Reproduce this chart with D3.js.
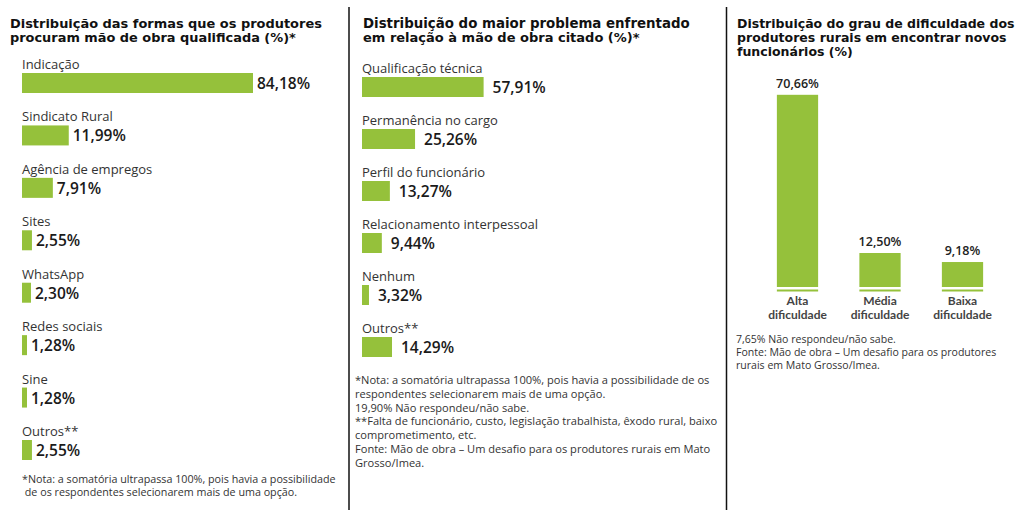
<!DOCTYPE html>
<html><head><meta charset="utf-8">
<script src="https://cdn.jsdelivr.net/npm/d3@7/dist/d3.min.js"></script>
<style>
html,body{margin:0;padding:0;background:#fff;}
svg text{font-family:"Open Sans",Lato,sans-serif;}
</style></head>
<body>
<svg id="c" width="1024" height="510"></svg>
<script>
// ---------- DATA ----------
const formasCategories = ["Indicação","Sindicato Rural","Agência de empregos","Sites","WhatsApp","Redes sociais","Sine","Outros**"];
const formasValues = [84.18, 11.99, 7.91, 2.55, 2.30, 1.28, 1.28, 2.55];
const formasLabels = ["84,18%","11,99%","7,91%","2,55%","2,30%","1,28%","1,28%","2,55%"];

const problemaCategories = ["Qualificação técnica","Permanência no cargo","Perfil do funcionário","Relacionamento interpessoal","Nenhum","Outros**"];
const problemaValues = [57.91, 25.26, 13.27, 9.44, 3.32, 14.29];
const problemaLabels = ["57,91%","25,26%","13,27%","9,44%","3,32%","14,29%"];

const grauCategories = [["Alta","dificuldade"],["Média","dificuldade"],["Baixa","dificuldade"]];
const grauValues = [70.66, 12.50, 9.18];
const grauLabels = ["70,66%","12,50%","9,18%"];

const title1 = ["Distribuição das formas que os produtores","procuram mão de obra qualificada (%)*"];
const title2 = ["Distribuição do maior problema enfrentado","em relação à mão de obra citado (%)*"];
const title3 = ["Distribuição do grau de dificuldade dos","produtores rurais em encontrar novos","funcionários (%)"];
const note1 = ["*Nota: a somatória ultrapassa 100%, pois havia a possibilidade"," de os respondentes selecionarem mais de uma opção."];
const note2 = ["*Nota: a somatória ultrapassa 100%, pois havia a possibilidade de os","respondentes selecionarem mais de uma opção.","19,90% Não respondeu/não sabe.","**Falta de funcionário, custo, legislação trabalhista, êxodo rural, baixo","comprometimento, etc.","Fonte: Mão de obra – Um desafio para os produtores rurais em Mato","Grosso/Imea."];
const note3 = ["7,65% Não respondeu/não sabe.","Fonte: Mão de obra – Um desafio para os produtores","rurais em Mato Grosso/Imea."];

// ---------- DRAW ----------
const GREEN = "#95c13b";
const svg = d3.select("#c");

// dividers
svg.append("line").attr("x1",349).attr("x2",349).attr("y1",7).attr("y2",510).attr("stroke","#111").attr("stroke-width",1.5);
svg.append("line").attr("x1",726.5).attr("x2",726.5).attr("y1",7).attr("y2",510).attr("stroke","#111").attr("stroke-width",1.5);

function title(lines,x,y0,dy,widths){
  const t=svg.append("text").attr("x",x).attr("y",y0)
    .style("font-family","'DejaVu Sans',sans-serif")
    .style("font-size","13px").style("font-weight","700").attr("fill","#111");
  lines.forEach((s,i)=>{
    const ts=t.append("tspan").attr("x",x).attr("y",y0+i*dy).text(s).style("font-size","13px");
    const n=ts.node().getComputedTextLength();
    if(n>0) ts.style("font-size",(13*widths[i]/n)+"px");
  });
}
function notes(lines,x,y0,dy,w0,fs){
  const t=svg.append("text").attr("x",x).attr("y",y0).style("font-size",fs+"px").attr("fill","#333");
  lines.forEach((s,i)=>{
    t.append("tspan").attr("x",x).attr("y",y0+i*dy).text(s);
  });
  const k=w0/t.select("tspan").node().getComputedTextLength();
  t.style("font-size",(fs*k)+"px");
}
const LBL = "13px", VAL = "15.5px";

// ----- Panel 1 -----
title(title1,10,28,14,[312,286]);
const x1 = d3.scaleLinear().domain([0,15,90]).range([0,58.5,245.5]);
const y1 = d3.scalePoint().domain(formasCategories).range([73,440]);
formasCategories.forEach((c,i)=>{
  const top=y1(c);
  svg.append("text").attr("x",22).attr("y",top-4).text(c)
    .style("font-size",LBL).attr("fill","#333");
  const w=x1(formasValues[i]);
  svg.append("rect").attr("x",22).attr("y",top).attr("width",w).attr("height",20).attr("fill",GREEN);
  svg.append("text").attr("x",22+w+4).attr("y",top+16).text(formasLabels[i])
    .style("font-size",VAL).style("font-weight","600").attr("fill","#1a1a1a");
});
notes(note1,22,483,12.5,314,10.5);

// ----- Panel 2 -----
title(title2,363,28,14,[327,277]);
const x2 = d3.scaleLinear().domain([0,100]).range([0,210]);
const y2 = d3.scalePoint().domain(problemaCategories).range([77,337]);
problemaCategories.forEach((c,i)=>{
  const top=y2(c);
  svg.append("text").attr("x",362).attr("y",top-4).text(c)
    .style("font-size",LBL).attr("fill","#333");
  const w=x2(problemaValues[i]);
  svg.append("rect").attr("x",362).attr("y",top).attr("width",w).attr("height",20).attr("fill",GREEN);
  svg.append("text").attr("x",362+w+9).attr("y",top+16).text(problemaLabels[i])
    .style("font-size",VAL).style("font-weight","600").attr("fill","#1a1a1a");
});
notes(note2,355,384,13.8,355,10.5);

// ----- Panel 3 -----
title(title3,737,28,14,[278,270,116]);
const names3 = grauCategories.map(d=>d.join(" "));
const x3 = d3.scaleBand().domain(names3).range([756.25,1003.75]).paddingInner(0.5).paddingOuter(0.25);
const y3 = d3.scaleLinear().domain([0,100]).range([287,15]);
names3.forEach((n,i)=>{
  const bx=x3(n), bw=x3.bandwidth(), cx=bx+bw/2;
  const top=y3(grauValues[i]);
  svg.append("rect").attr("x",bx).attr("y",top).attr("width",bw).attr("height",y3(0)-top).attr("fill",GREEN);
  svg.append("rect").attr("x",bx).attr("y",y3(0)+2.5).attr("width",bw).attr("height",2).attr("fill",GREEN);
  svg.append("text").attr("x",cx).attr("y",top-7).attr("text-anchor","middle").text(grauLabels[i])
    .style("font-size","12.5px").style("font-weight","600").attr("fill","#222");
  const lt=svg.append("text").attr("x",cx).attr("y",305).attr("text-anchor","middle")
    .style("font-family","Lato,sans-serif")
    .style("font-size","12px").style("font-weight","700").attr("fill","#444");
  grauCategories[i].forEach((t,j)=>{
    lt.append("tspan").attr("x",cx).attr("y",305+j*14).text(t);
  });
});
notes(note3,736,343,13,160,10.5);
</script>
</body></html>
